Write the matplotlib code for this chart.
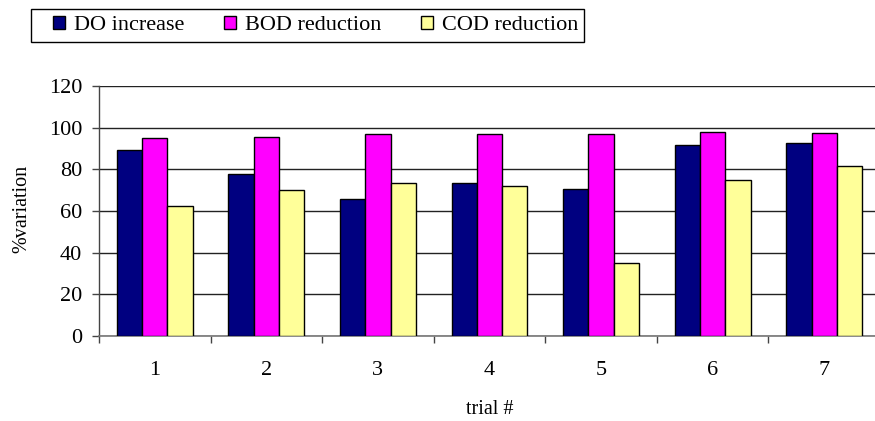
import matplotlib
matplotlib.use("Agg")
import matplotlib.pyplot as plt
from matplotlib.patches import Rectangle
import numpy as np

trials = ["1", "2", "3", "4", "5", "6", "7"]
do_increase = [89.2, 78.0, 65.7, 73.4, 70.8, 91.6, 92.4]
bod_reduction = [94.9, 95.6, 96.9, 96.9, 96.9, 98.0, 97.6]
cod_reduction = [62.3, 70.3, 73.2, 72.1, 35.1, 74.8, 81.7]

series_names = ["DO increase", "BOD reduction", "COD reduction"]
series_colors = ["#000080", "#FF00FF", "#FFFF99"]
y_ticks = [0, 20, 40, 60, 80, 100, 120]

plt.rcParams["font.family"] = ["Liberation Serif", "DejaVu Serif"]

W, H = 875, 421
fig = plt.figure(figsize=(W / 100, H / 100), dpi=100)
# plot area in pixels: x 99..880, y 86..336
ax = fig.add_axes([99 / W, 1 - 336 / H, (880 - 99) / W, (336 - 86) / H])

x = np.arange(len(trials))
bw = 0.227
for k, (vals, name, col) in enumerate(zip([do_increase, bod_reduction, cod_reduction],
                                           series_names, series_colors)):
    ax.bar(x + (k - 1) * bw, vals, width=bw, color=col, edgecolor="black",
           linewidth=1.0, label=name, zorder=3)

ax.set_xlim(-0.5, len(trials) - 0.5)
ax.set_ylim(0, 120)
ax.set_yticks(y_ticks)
ax.set_yticklabels([str(v) for v in y_ticks], fontsize=16)
ax.yaxis.grid(True, color="#222222", linewidth=1.0, zorder=0)

ax.set_xticks(x)
ax.set_xticklabels(trials, fontsize=16)
ax.set_xticks(np.arange(len(trials)) - 0.5, minor=True)
ax.tick_params(axis="x", which="major", length=0, pad=18)
ax.tick_params(axis="x", which="minor", length=5, width=1.0, color="#444444", direction="out")
ax.tick_params(axis="y", length=5, width=1.0, color="#444444", pad=7)

for s in ["top", "right"]:
    ax.spines[s].set_visible(False)
ax.spines["left"].set_color("#444444")
ax.spines["bottom"].set_color("#777777")
ax.spines["left"].set_linewidth(1.0)
ax.spines["bottom"].set_linewidth(1.2)

fig.text(22 / W, 1 - 209 / H, "%variation", rotation=90, ha="center", va="center", fontsize=14.5)
fig.text(490 / W, 1 - 409 / H, "trial #", ha="center", va="center", fontsize=14.5)

# legend entries, with a plain rectangular frame drawn around them
leg = fig.legend(loc="center left", bbox_to_anchor=(53 / W, 1 - 25.5 / H), ncol=3,
                 fontsize=16, frameon=False,
                 handlelength=0.55, handleheight=0.55, handletextpad=0.4,
                 columnspacing=1.78, borderpad=0, borderaxespad=0)
for h in leg.legend_handles:
    h.set_edgecolor("black")
    h.set_linewidth(1.0)
fig.patches.append(Rectangle((31 / W, 1 - 42 / H), (584 - 31) / W, 33 / H,
                             transform=fig.transFigure, fill=False,
                             edgecolor="black", linewidth=1.0))

fig.savefig("out.png", dpi=100)
